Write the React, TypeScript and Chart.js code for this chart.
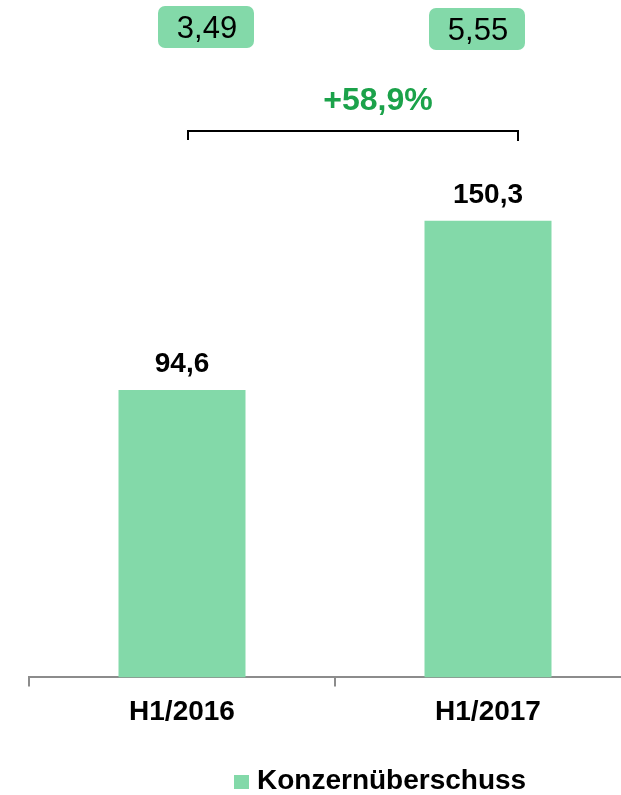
import React, { useEffect, useRef } from "react";
import { Chart, registerables } from "chart.js";

Chart.register(...registerables);

const FONT = "Arial, 'Liberation Sans', sans-serif";

const categories = ["H1/2016", "H1/2017"];
const netIncome = [94.6, 150.3];
const valueLabels = ["94,6", "150,3"];
const perShareLabels = ["3,49", "5,55"];
const growthLabel = "+58,9%";
const seriesName = "Konzernüberschuss";

const BAR_COLOR = "#83d9a9";
const GREEN_TEXT = "#1ba24a";
const AXIS_GRAY = "#8c8c8c";

const annotations = {
  id: "annotations",
  afterDatasetsDraw(chart: any) {
    const ctx = chart.ctx as CanvasRenderingContext2D;
    const xs = chart.scales.x;
    const meta = chart.getDatasetMeta(0);
    const c0 = xs.getPixelForValue(0);
    const c1 = xs.getPixelForValue(1);
    ctx.save();

    // value labels above bars
    ctx.font = `bold 28px ${FONT}`;
    ctx.fillStyle = "#000";
    ctx.textAlign = "center";
    ctx.textBaseline = "alphabetic";
    meta.data.forEach((bar: any, i: number) => {
      ctx.fillText(valueLabels[i], bar.x, bar.y - 18);
    });

    // per-share boxes
    const boxOffsets = [24, -11];
    const boxTops = [6, 8];
    const bw = 96;
    const bh = 42;
    [c0, c1].forEach((c, i) => {
      const cx = c + boxOffsets[i];
      const top = boxTops[i];
      ctx.fillStyle = BAR_COLOR;
      ctx.beginPath();
      (ctx as any).roundRect(cx - bw / 2, top, bw, bh, 7);
      ctx.fill();
      ctx.fillStyle = "#000";
      ctx.font = `31px ${FONT}`;
      ctx.textAlign = "center";
      ctx.fillText(perShareLabels[i], cx + 1, top + 32);
    });

    // growth label
    ctx.font = `bold 32px ${FONT}`;
    ctx.fillStyle = GREEN_TEXT;
    ctx.textAlign = "center";
    ctx.fillText(growthLabel, (c0 + c1) / 2 + 43, 110);

    // bracket
    const bl = c0 + 6;
    const br = c1 + 30;
    const by = 131;
    ctx.strokeStyle = "#000";
    ctx.lineWidth = 2;
    ctx.beginPath();
    ctx.moveTo(bl, by + 9);
    ctx.lineTo(bl, by);
    ctx.lineTo(br, by);
    ctx.lineTo(br, by + 10);
    ctx.stroke();

    // legend
    ctx.fillStyle = BAR_COLOR;
    ctx.fillRect(234, 775, 15, 14);
    ctx.fillStyle = "#000";
    ctx.font = `bold 28px ${FONT}`;
    ctx.textAlign = "left";
    ctx.fillText(seriesName, 257, 789);

    ctx.restore();
  },
};

export default function App() {
  const ref = useRef<HTMLCanvasElement>(null);
  useEffect(() => {
    if (!ref.current) return;
    const chart = new Chart(ref.current, {
      type: "bar",
      data: {
        labels: categories,
        datasets: [
          {
            label: seriesName,
            data: netIncome,
            backgroundColor: BAR_COLOR,
            borderWidth: 0,
            barPercentage: 0.415,
            categoryPercentage: 1,
          },
        ],
      },
      options: {
        responsive: false,
        animation: false,
        events: [],
        layout: { padding: { left: 29, right: 39, top: 0, bottom: 57 } },
        plugins: {
          legend: { display: false },
          tooltip: { enabled: false },
        },
        scales: {
          x: {
            offset: true,
            grid: {
              display: true,
              offset: true,
              drawOnChartArea: false,
              drawTicks: true,
              tickLength: 9,
              color: AXIS_GRAY,
              lineWidth: 2,
            },
            border: { display: true, color: AXIS_GRAY, width: 2 },
            ticks: {
              color: "#000",
              padding: 9,
              font: { family: FONT, size: 28, weight: "bold" },
            },
          },
          y: {
            display: false,
            min: 0,
            max: 222.9,
          },
        },
      },
      plugins: [annotations],
    });
    return () => chart.destroy();
  }, []);
  return (
    <div
      style={{
        position: "fixed",
        left: 0,
        top: 0,
        width: 621,
        height: 795,
        overflow: "hidden",
        background: "#fff",
      }}
    >
      <canvas ref={ref} width={680} height={795} style={{ display: "block" }} />
    </div>
  );
}
